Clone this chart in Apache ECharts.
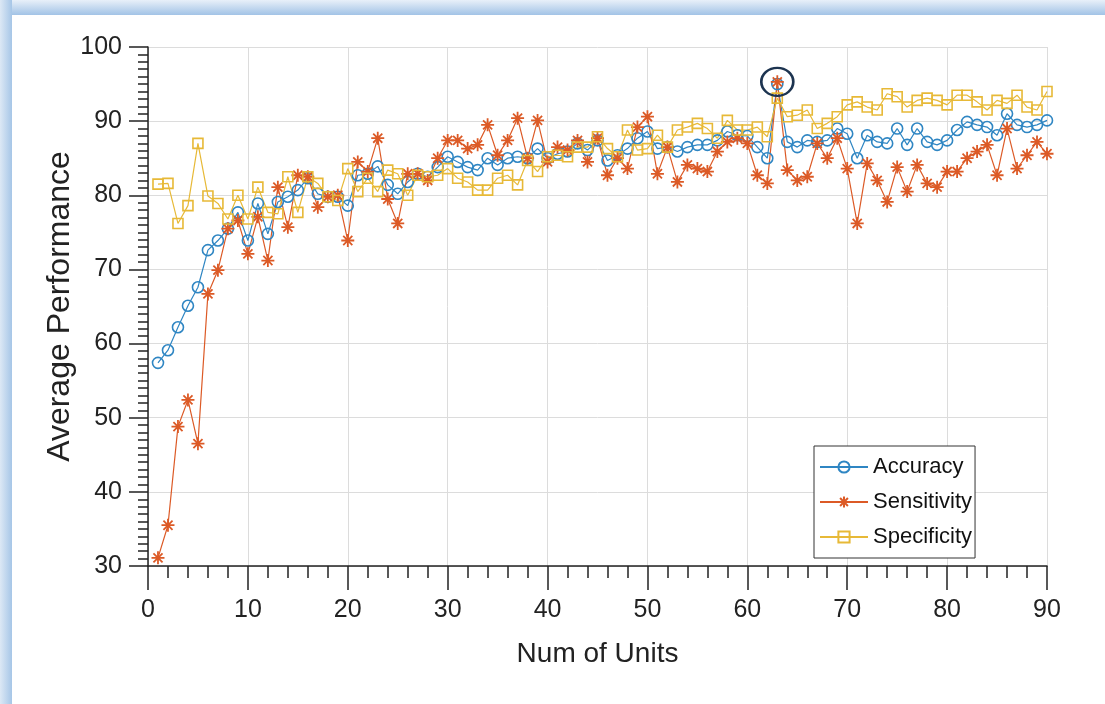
<!DOCTYPE html>
<html>
<head>
<meta charset="utf-8">
<script src="https://cdn.jsdelivr.net/npm/echarts@6/dist/echarts.min.js"></script>
<style>
  html, body { margin: 0; padding: 0; background: #fff; }
  #chart { width: 1105px; height: 704px; }
</style>
</head>
<body>
<div id="chart"></div>
<script>
// number of units 1..90
const units = Array.from({ length: 90 }, (_, i) => i + 1);

const accuracy = [
  57.4, 59.1, 62.2, 65.1, 67.6, 72.6, 73.9, 75.5, 77.7, 73.9,
  78.9, 74.8, 79.1, 79.8, 80.7, 82.3, 80.2, 79.8, 79.8, 78.6,
  82.7, 82.9, 83.9, 81.4, 80.2, 81.8, 82.9, 82.5, 83.8, 85.2,
  84.5, 83.8, 83.4, 85.0, 84.1, 85.0, 85.2, 85.0, 86.3, 85.0,
  85.6, 85.9, 87.0, 86.1, 87.4, 84.7, 85.4, 86.3, 87.7, 88.6,
  86.3, 86.5, 85.9, 86.5, 86.8, 86.8, 87.4, 88.6, 88.1, 88.0,
  86.5, 85.0, 95.0, 87.2, 86.5, 87.4, 87.2, 87.4, 89.0, 88.3,
  85.0, 88.1, 87.2, 87.0, 89.0, 86.8, 89.0, 87.2, 86.8, 87.4,
  88.8, 89.9, 89.5, 89.2, 88.1, 91.0, 89.5, 89.2, 89.5, 90.1
];

const sensitivity = [
  31.1, 35.5, 48.8, 52.4, 46.5, 66.7, 69.9, 75.5, 76.6, 72.1,
  77.1, 71.2, 81.1, 75.7, 82.7, 82.5, 78.4, 79.8, 80.0, 73.9,
  84.5, 83.2, 87.7, 79.5, 76.2, 82.9, 82.9, 82.0, 85.0, 87.4,
  87.4, 86.3, 86.8, 89.5, 85.4, 87.4, 90.4, 85.0, 90.1, 84.5,
  86.5, 86.1, 87.4, 84.5, 87.7, 82.7, 85.0, 83.6, 89.2, 90.6,
  82.9, 86.5, 81.8, 84.1, 83.6, 83.2, 85.9, 87.2, 87.7, 87.0,
  82.7, 81.6, 95.3, 83.4, 82.0, 82.5, 87.0, 85.0, 87.7, 83.6,
  76.2, 84.3, 82.0, 79.1, 83.8, 80.5, 84.1, 81.6, 81.1, 83.2,
  83.2, 85.0, 85.9, 86.8, 82.7, 89.0, 83.6, 85.4, 87.2, 85.6
];

const specificity = [
  81.5, 81.6, 76.2, 78.6, 87.0, 79.9, 78.9, 76.8, 80.0, 76.8,
  81.1, 77.7, 77.5, 82.5, 77.7, 82.5, 81.6, 79.8, 79.3, 83.6,
  80.5, 82.3, 80.5, 83.4, 82.9, 80.0, 82.7, 82.5, 82.7, 83.6,
  82.3, 81.8, 80.7, 80.7, 82.3, 82.7, 81.4, 84.7, 83.2, 85.2,
  85.4, 85.2, 86.5, 86.5, 87.9, 86.3, 85.2, 88.8, 86.1, 86.3,
  88.1, 86.5, 88.8, 89.2, 89.7, 89.0, 87.7, 90.1, 88.8, 88.8,
  89.2, 87.9, 93.1, 90.6, 90.8, 91.5, 89.0, 89.7, 90.6, 92.2,
  92.6, 91.9, 91.5, 93.7, 93.3, 91.9, 92.8, 93.1, 92.8, 92.2,
  93.5, 93.5, 92.6, 91.5, 92.8, 92.4, 93.5, 91.9, 91.5, 94.0
];

// the circled peak
const peakUnit = 63;

const font = "'Liberation Sans', Arial, sans-serif";

const blue = '#2f86c3';
const orange = '#dc5a26';
const yellow = '#e7b937';
const star = 'path://M10,0L10,20M0,10L20,10M3,3L17,17M3,17L17,3';

const pairs = vals => units.map((u, i) => [u, vals[i]]);

const chart = echarts.init(document.getElementById('chart'), null, { renderer: 'canvas' });

const option = {
  animation: false,
  backgroundColor: '#fff',
  grid: { left: 148, right: 58, top: 47, bottom: 138 },
  graphic: [
    {
      type: 'rect', left: 0, top: 0, z: 100,
      shape: { width: 1105, height: 15 },
      style: { fill: new echarts.graphic.LinearGradient(0, 0, 0, 1, [
        { offset: 0, color: '#e8f0f9' }, { offset: 1, color: '#a2c3e6' }]) }
    },
    {
      type: 'rect', left: 0, top: 0, z: 100,
      shape: { width: 12, height: 704 },
      style: { fill: new echarts.graphic.LinearGradient(0, 0, 1, 0, [
        { offset: 0, color: '#dce8f5' }, { offset: 1, color: '#a6c6e7' }]) }
    }
  ],
  xAxis: {
    type: 'value',
    min: 0, max: 90, interval: 10,
    name: 'Num of Units',
    nameLocation: 'middle',
    nameGap: 74,
    nameMoveOverlap: false,
    nameTextStyle: { fontFamily: font, fontSize: 28, color: '#222' },
    axisLine: { lineStyle: { color: '#222', width: 1.5 } },
    axisTick: { inside: false, length: 24, lineStyle: { color: '#222', width: 1.5 } },
    minorTick: { show: true, splitNumber: 5, length: 12, lineStyle: { color: '#222', width: 1.5 } },
    axisLabel: { fontFamily: font, fontSize: 25, color: '#222', margin: 32 },
    splitLine: { show: true, lineStyle: { color: '#dcdcdc', width: 1 } }
  },
  yAxis: {
    type: 'value',
    min: 30, max: 100, interval: 10,
    name: 'Average Performance',
    nameLocation: 'middle',
    nameGap: 72,
    nameMoveOverlap: false,
    nameTextStyle: { fontFamily: font, fontSize: 32, color: '#222' },
    axisLine: { show: true, lineStyle: { color: '#222', width: 1.5 } },
    axisTick: { show: true, inside: false, length: 19, lineStyle: { color: '#222', width: 1.5 } },
    minorTick: { show: true, splitNumber: 10, length: 10, lineStyle: { color: '#222', width: 1.5 } },
    axisLabel: { fontFamily: font, fontSize: 25, color: '#222', margin: 26 },
    splitLine: { show: true, lineStyle: { color: '#dcdcdc', width: 1 } }
  },
  legend: {
    orient: 'vertical',
    left: 814, top: 446,
    padding: [10, 3, 10, 5],
    itemGap: 13,
    itemWidth: 48,
    itemHeight: 14,
    backgroundColor: '#fff',
    borderColor: '#333',
    borderWidth: 1,
    textStyle: { fontFamily: font, fontSize: 22, color: '#111' },
    data: ['Accuracy', 'Sensitivity', 'Specificity']
  },
  series: [
    {
      name: 'Accuracy',
      type: 'line',
      data: pairs(accuracy),
      symbol: 'circle',
      symbolSize: 11,
      lineStyle: { color: blue, width: 1.2 },
      itemStyle: { color: 'rgba(0,0,0,0)', borderColor: blue, borderWidth: 1.6 }
    },
    {
      name: 'Sensitivity',
      type: 'line',
      data: pairs(sensitivity),
      symbol: star,
      symbolSize: 13,
      lineStyle: { color: orange, width: 1.2 },
      itemStyle: { color: orange, borderColor: orange, borderWidth: 1.8 },
      markPoint: {
        symbol: 'circle',
        symbolSize: [32, 28],
        label: { show: false },
        itemStyle: { color: 'rgba(0,0,0,0)', borderColor: '#1d3450', borderWidth: 2.5 },
        data: [{ coord: [peakUnit, sensitivity[peakUnit - 1]] }]
      }
    },
    {
      name: 'Specificity',
      type: 'line',
      data: pairs(specificity),
      symbol: 'rect',
      symbolSize: 10,
      lineStyle: { color: yellow, width: 1.2 },
      itemStyle: { color: 'rgba(0,0,0,0)', borderColor: yellow, borderWidth: 1.6 }
    }
  ]
};

chart.setOption(option);
</script>
</body>
</html>
